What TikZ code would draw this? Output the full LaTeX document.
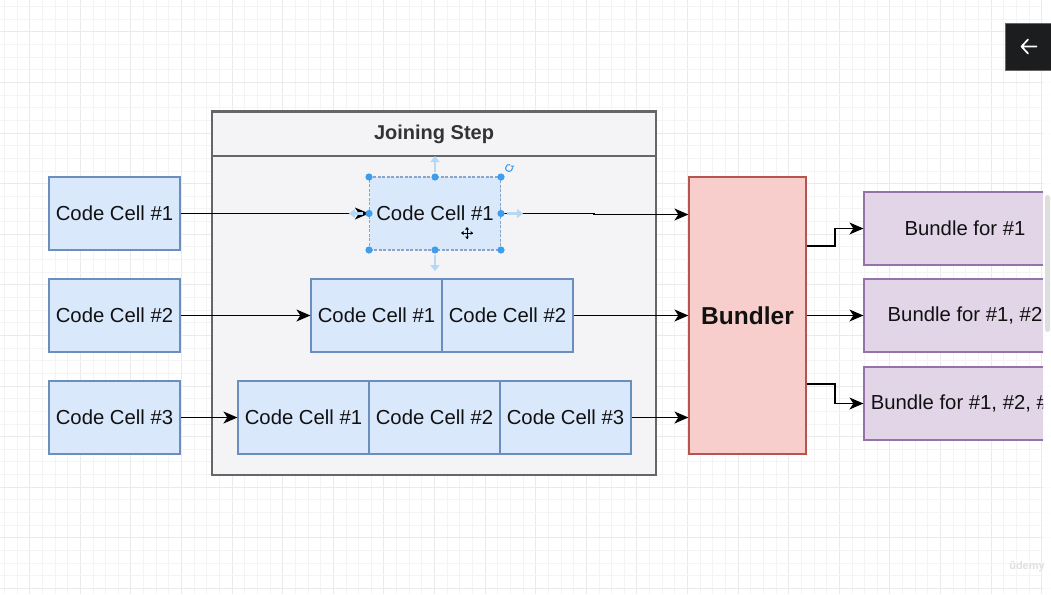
\documentclass[tikz,border=0pt]{standalone}
\usepackage{fontspec}
\setmainfont{Liberation Sans}
\usetikzlibrary{arrows.meta}
\definecolor{cellfill}{HTML}{DAE8FC}
\definecolor{cellline}{HTML}{6C8EBF}
\definecolor{bunfill}{HTML}{F8CECC}
\definecolor{bunline}{HTML}{B85450}
\definecolor{outfill}{HTML}{E1D5E7}
\definecolor{outline}{HTML}{9673A6}
\definecolor{joinfill}{HTML}{F4F4F6}
\definecolor{joinline}{HTML}{666666}
\definecolor{gridminor}{HTML}{F4F4F4}
\definecolor{gridmajor}{HTML}{EAEAEA}
\definecolor{handle}{HTML}{3D9EF0}
\definecolor{hintarrow}{HTML}{B5D9F5}
\definecolor{btnfill}{HTML}{1C1D1F}
\definecolor{txt}{HTML}{111111}
\tikzset{
  cellbox/.style={draw=cellline, fill=cellfill, line width=1.2pt, minimum width=131pt, minimum height=73pt, inner sep=0pt, text=txt, font=\fontsize{20.3}{24}\selectfont},
  bundlerbox/.style={draw=bunline, fill=bunfill, line width=1.2pt, minimum width=117pt, minimum height=277pt, inner sep=0pt, text=txt, font=\fontsize{24.5}{28}\selectfont\bfseries},
  outbox/.style={draw=outline, fill=outfill, line width=1.2pt, minimum width=202pt, minimum height=73pt, inner sep=0pt, text=txt, font=\fontsize{20.3}{24}\selectfont},
  joinbox/.style={draw=joinline, fill=joinfill, line width=1.1pt, minimum width=444pt, inner sep=0pt},
  conn/.style={draw=black, line width=1.4pt, line join=miter, -{Stealth[length=14pt,width=12pt,inset=4pt]}},
  handledot/.style={fill=handle, draw=none},
  hint/.style={draw=hintarrow, line width=2.6pt, -{Triangle[length=6pt,width=9pt]}}
}
\begin{document}
\begin{tikzpicture}[x=1pt,y=-1pt]
\useasboundingbox (0,0) rectangle (1051,594);
\fill[white] (0,0) rectangle (1051,594);
% grid
\foreach \i in {0,...,83} {
  \pgfmathsetmacro{\gx}{4.3+12.65*\i}
  \pgfmathtruncatemacro{\m}{mod(\i,4)}
  \ifnum\m=2 \draw[gridmajor, line width=0.8pt] (\gx,0) -- (\gx,594);
  \else \draw[gridminor, line width=0.7pt] (\gx,0) -- (\gx,594); \fi
}
\foreach \j in {0,...,47} {
  \pgfmathsetmacro{\gy}{6.4+12.65*\j}
  \pgfmathtruncatemacro{\m}{mod(\j,4)}
  \ifnum\m=2 \draw[gridmajor, line width=0.8pt] (0,\gy) -- (1051,\gy);
  \else \draw[gridminor, line width=0.7pt] (0,\gy) -- (1051,\gy); \fi
}

% joining step container
\node[joinbox, minimum height=364pt] (join) at (434,293) {};
\node[joinbox, minimum height=44pt, text=black!80, font=\fontsize{20}{24}\selectfont\bfseries] (joinhead) at (434,134) {Joining Step};

% input cells
\node[cellbox] (c1) at (114.5,213.5) {Code Cell \#1};
\node[cellbox] (c2) at (114.5,315.5) {Code Cell \#2};
\node[cellbox] (c3) at (114.5,417.5) {Code Cell \#3};

% joined rows
\node[cellbox, draw=cellline!80, dash pattern=on 3pt off 1.5pt] (s1) at (435,213.5) {Code Cell \#1};
\node[cellbox] (r2a) at (376.5,315.5) {Code Cell \#1};
\node[cellbox] (r2b) at (507.5,315.5) {Code Cell \#2};
\node[cellbox] (r3a) at (303.5,417.5) {Code Cell \#1};
\node[cellbox] (r3b) at (434.5,417.5) {Code Cell \#2};
\node[cellbox] (r3c) at (565.5,417.5) {Code Cell \#3};

% bundler
\node[bundlerbox] (bundler) at (747.5,315.5) {Bundler};

% outputs
\begin{scope}
\clip (0,0) rectangle (1043,594);
\node[outbox] (o1) at (965,228.5) {Bundle for \#1};
\node[outbox] (o2) at (965,315.5) {Bundle for \#1, \#2};
\node[outbox] (o3) at (965,403.5) {Bundle for \#1, \#2, \#3};
\end{scope}

% connectors
\draw[conn] (c1.east) -- (s1.west);
\draw[conn] (c2.east) -- (r2a.west);
\draw[conn] (c3.east) -- (r3a.west);
\draw[conn] (s1.east) -- (594,213.5) -- (594,214.5) -- (bundler.west |- 0,214.5);
\draw[conn] (r2b.east) -- (bundler.west |- r2b.east);
\draw[conn] (r3c.east) -- (bundler.west |- r3c.east);
\draw[conn] (bundler.east |- 0,246) -- (835,246) |- (o1.west);
\draw[conn] (bundler.east |- o2.west) -- (o2.west);
\draw[conn] (bundler.east |- 0,384) -- (835,384) |- (o3.west);

% selection overlay
\draw[hint] (435,172) -- (435,156);
\draw[hint] (435,255) -- (435,271);
\draw[hint] (363,213.5) -- (349,213.5);
\draw[hint] (507,213.5) -- (523,213.5);
\foreach \p in {(369,177),(435,177),(501,177),(369,213.5),(501,213.5),(369,250),(435,250),(501,250)}
  \fill[handledot] \p circle (3.6pt);
\draw[handle, line width=1.1pt] (512.5,168) arc[start angle=0, end angle=-290, radius=3.5pt];
\fill[handle] (512.5,168) -- (510.5,165.5) -- (514.5,165.5) -- cycle;
% move cursor
\draw[black, line width=1pt] (461.5,233) -- (472.5,233) (467,227.5) -- (467,238.5);
\fill[black] (461,233) -- (463.5,231) -- (463.5,235) -- cycle
             (473,233) -- (470.5,231) -- (470.5,235) -- cycle
             (467,227) -- (465,229.5) -- (469,229.5) -- cycle
             (467,239) -- (465,236.5) -- (469,236.5) -- cycle;

% scrollbar strip
\fill[white, opacity=0.85] (1043,0) rectangle (1051,594);
\fill[black!13, rounded corners=2.5pt] (1045,195) rectangle (1050,332);

% back button
\node[draw=black!60, fill=btnfill, minimum width=46pt, minimum height=47pt, inner sep=0pt, line width=0.6pt] (btn) at (1028.5,46.5) {};
\draw[white, line width=1.7pt, line cap=round, line join=round] ([xshift=8pt]btn.center) -- ([xshift=-7pt]btn.center)
  ([xshift=-0.5pt,yshift=-7pt]btn.center) -- ([xshift=-7pt]btn.center) -- ([xshift=-0.5pt,yshift=7pt]btn.center);

% watermark
\node[text=black!12, font=\fontsize{11}{13}\selectfont\bfseries, inner sep=0pt] (wm) at (1027,567) {ûdemy};
\end{tikzpicture}
\end{document}
